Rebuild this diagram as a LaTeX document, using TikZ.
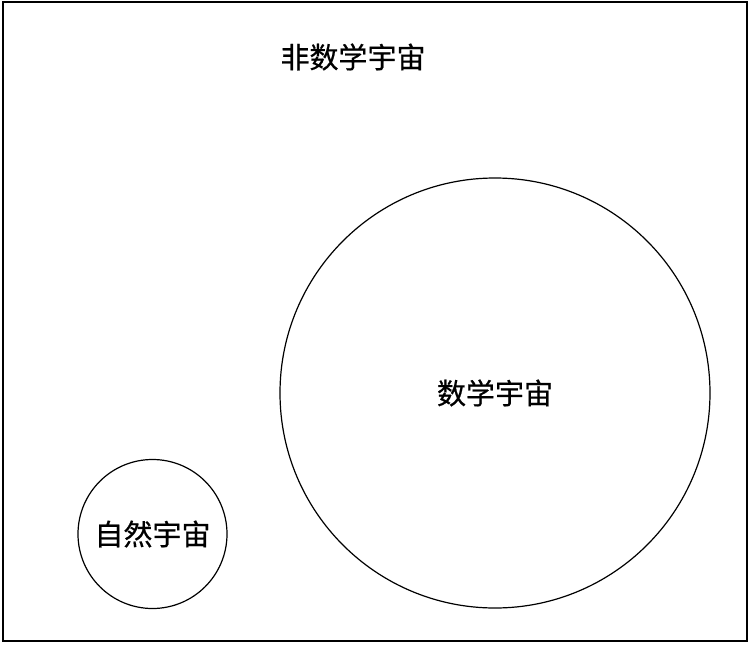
\documentclass[tikz,border=0pt]{standalone}
\usepackage{fontspec}
\newfontfamily\cjk[FakeBold=0.6]{Noto Sans CJK SC}
\usepackage{tikz}
\usetikzlibrary{positioning}

\tikzset{
  universe/.style={draw, circle, line width=1.2pt, inner sep=0pt, font=\cjk\fontsize{29}{32}\selectfont},
  label1/.style={font=\cjk\fontsize{29}{32}\selectfont}
}

\begin{document}
\begin{tikzpicture}[x=1pt, y=-1pt]
  \useasboundingbox (0,0) rectangle (750,646);

  % Outer frame
  \draw[line width=1.5pt] (3,2) rectangle (747,641);
  \node[label1] (nonmath) at (353,57) {非数学宇宙};

  % Circles
  \node[universe, minimum size=430pt] (math) at (495,393) {数学宇宙};
  \node[universe, minimum size=149pt] (nature) at (152.5,534) {自然宇宙};
\end{tikzpicture}
\end{document}
